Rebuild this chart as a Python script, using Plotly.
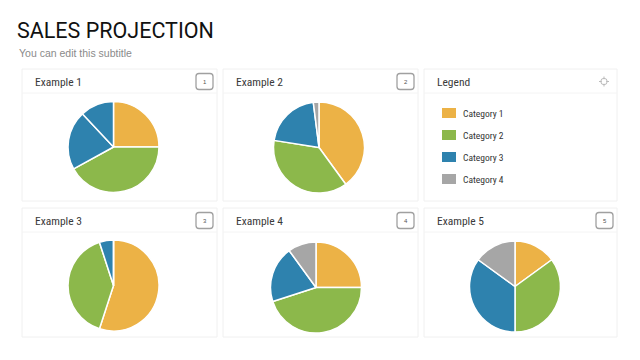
import plotly.graph_objects as go

# ---------------- data ----------------
categories = ["Category 1", "Category 2", "Category 3", "Category 4"]
example_titles = ["Example 1", "Example 2", "Example 3", "Example 4", "Example 5"]
badge_labels = ["1", "2", "3", "4", "5"]
ex1_values = [25, 42, 21, 12]
ex2_values = [40, 37.5, 20.5, 2]
ex3_values = [55, 40, 5, 0]
ex4_values = [25, 45, 20, 10]
ex5_values = [15, 35, 35, 15]
title_text = "SALES PROJECTION"
subtitle_text = "You can edit this subtitle"
legend_title = "Legend"

# ---------------- style ----------------
ORANGE, GREEN, BLUE, GRAY = "#ECB246", "#8CB84B", "#2E82AE", "#A6A6A6"
cat_colors = [ORANGE, GREEN, BLUE, GRAY]
ex1_colors = [ORANGE, GREEN, BLUE, BLUE]
W, H = 640, 360
FONT = "Roboto Condensed, Liberation Sans Narrow, Roboto, Liberation Sans, sans-serif"
TITLE_FONT = "Roboto, Liberation Sans, Arial, sans-serif"

all_values = [ex1_values, ex2_values, ex3_values, ex4_values, ex5_values]
all_colors = [ex1_colors, cat_colors, cat_colors, cat_colors, cat_colors]
# pie centres (pixels) and radius
centers = [(113.5, 147), (319, 147.5), (113.5, 285.5), (316, 287.5), (515, 286.5)]
R = 45.5
# panels: (x0, y0, x1, y1) in pixels
panels = [(22, 69, 217, 201), (223, 69, 418, 201), (424, 69, 617, 201),
          (22, 208, 217, 337), (223, 208, 418, 337), (424, 208, 617, 337)]
chart_panels = [0, 1, 3, 4, 5]
HEADER = 24

fig = go.Figure()

for vals, cols, (cx, cy) in zip(all_values, all_colors, centers):
    fig.add_trace(go.Pie(
        labels=categories, values=vals, sort=False, direction="clockwise",
        rotation=0, textinfo="none", hoverinfo="label+percent",
        marker=dict(colors=cols, line=dict(color="white", width=1.5)),
        domain=dict(x=[(cx - R) / W, (cx + R) / W],
                    y=[1 - (cy + R) / H, 1 - (cy - R) / H]),
        showlegend=False,
    ))

shapes = []
annotations = []

# panels
for (x0, y0, x1, y1) in panels:
    shapes.append(dict(type="rect", xref="x", yref="y", x0=x0, y0=y0, x1=x1, y1=y1,
                       line=dict(color="#F0F0F0", width=1), fillcolor="rgba(0,0,0,0)",
                       layer="below"))
    shapes.append(dict(type="line", xref="x", yref="y", x0=x0, y0=y0 + HEADER,
                       x1=x1, y1=y0 + HEADER, line=dict(color="#F4F4F4", width=1),
                       layer="below"))

def rounded(x0, y0, x1, y1, r):
    return (f"M {x0+r},{y0} L {x1-r},{y0} Q {x1},{y0} {x1},{y0+r} "
            f"L {x1},{y1-r} Q {x1},{y1} {x1-r},{y1} L {x0+r},{y1} "
            f"Q {x0},{y1} {x0},{y1-r} L {x0},{y0+r} Q {x0},{y0} {x0+r},{y0} Z")

for idx, title, badge in zip(chart_panels, example_titles, badge_labels):
    x0, y0, x1, y1 = panels[idx]
    annotations.append(dict(x=x0 + 11, y=y0 + 13, xref="x", yref="y", text=title,
                            showarrow=False, xanchor="left", yanchor="middle",
                            font=dict(family=FONT, size=11.5, color="#3A3A3A")))
    bx1 = x1 - 4
    bx0 = bx1 - 17
    by0 = y0 + 4.5
    by1 = by0 + 16
    shapes.append(dict(type="path", xref="x", yref="y",
                       path=rounded(bx0, by0, bx1, by1, 3),
                       line=dict(color="#A0A0A0", width=1.3), fillcolor="white"))
    annotations.append(dict(x=(bx0 + bx1) / 2, y=(by0 + by1) / 2, xref="x", yref="y",
                            text=badge, showarrow=False, xanchor="center",
                            yanchor="middle",
                            font=dict(family="Liberation Sans, Arial", size=6,
                                      color="#555555")))

# legend panel
lx0, ly0, lx1, ly1 = panels[2]
annotations.append(dict(x=lx0 + 11, y=ly0 + 13, xref="x", yref="y", text=legend_title,
                        showarrow=False, xanchor="left", yanchor="middle",
                        font=dict(family=FONT, size=11.5, color="#3A3A3A")))
# crosshair icon
icx, icy = 604, 81.5
shapes.append(dict(type="circle", xref="x", yref="y", x0=icx - 3.2, y0=icy - 3.2,
                   x1=icx + 3.2, y1=icy + 3.2, line=dict(color="#BBBBBB", width=1)))
for dx, dy in [(0, -1), (0, 1), (-1, 0), (1, 0)]:
    shapes.append(dict(type="line", xref="x", yref="y",
                       x0=icx + dx * 2.2, y0=icy + dy * 2.2,
                       x1=icx + dx * 5, y1=icy + dy * 5,
                       line=dict(color="#BBBBBB", width=1)))

for i, (cat, col) in enumerate(zip(categories, cat_colors)):
    yc = 113 + 22 * i
    shapes.append(dict(type="rect", xref="x", yref="y", x0=442, y0=yc - 5,
                       x1=456, y1=yc + 5, line=dict(width=0), fillcolor=col))
    annotations.append(dict(x=461, y=yc, xref="x", yref="y", text=cat,
                            showarrow=False, xanchor="left", yanchor="middle",
                            font=dict(family=FONT, size=9.5, color="#333333")))

# title + subtitle
annotations.append(dict(x=15, y=30, xref="x", yref="y", text=title_text,
                        showarrow=False, xanchor="left", yanchor="middle",
                        font=dict(family=TITLE_FONT, size=21.5, color="#111111")))
annotations.append(dict(x=17, y=52.5, xref="x", yref="y", text=subtitle_text,
                        showarrow=False, xanchor="left", yanchor="middle",
                        font=dict(family="Liberation Sans, Arial", size=10.5,
                                  color="#8A8A8A")))

fig.update_layout(
    width=W, height=H, margin=dict(l=0, r=0, t=0, b=0),
    paper_bgcolor="white", plot_bgcolor="white",
    xaxis=dict(range=[0, W], visible=False, fixedrange=True, domain=[0, 1]),
    yaxis=dict(range=[H, 0], visible=False, fixedrange=True, domain=[0, 1]),
    shapes=shapes, annotations=annotations, showlegend=False,
)

fig.write_html("out.html", config={"displayModeBar": False},
               post_script="document.body.style.margin='0';document.body.style.overflow='hidden';")
